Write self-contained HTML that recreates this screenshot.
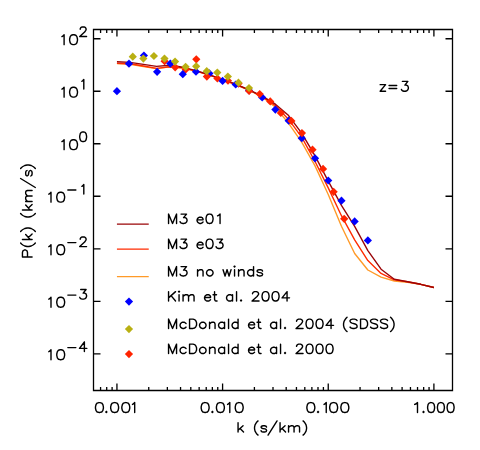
<!DOCTYPE html>
<html><head><meta charset="utf-8"><title>P(k) z=3</title>
<style>html,body{margin:0;padding:0;background:#fff;font-family:"Liberation Sans",sans-serif}svg{display:block}</style>
</head><body>
<svg width="480" height="450" viewBox="0 0 480 450">
<rect width="480" height="450" fill="#fff"/>
<polyline points="116.94,63.6 130.15,64.3 143.35,66.5 156.56,68.6 169.76,66.9 182.97,68 196.18,71.1 209.38,75.2 222.59,79.7 235.8,84.6 249,90.2 262.21,97 275.42,107.2 288.62,123.4 301.83,142.3 315.04,165.9 328.24,194.5 341.45,226.3 354.66,253.5 367.86,270 381.07,277.2 394.28,281 407.48,282.2 420.69,284.3 433.9,287.5" fill="none" stroke="#ff9a28" stroke-width="1.38" stroke-linejoin="round" stroke-linecap="butt"/>
<polyline points="116.94,63.3 130.15,63.8 143.35,66 156.56,68.4 169.76,66.7 182.97,67.9 196.18,71 209.38,75.1 222.59,79.6 235.8,84.5 249,90 262.21,96.6 275.42,105.6 288.62,119.4 301.83,137.3 315.04,161.5 328.24,187.9 341.45,215.7 354.66,239.8 367.86,260.6 381.07,273.4 394.28,279.8 407.48,281.8 420.69,284.3 433.9,287.5" fill="none" stroke="#ff2a00" stroke-width="1.38" stroke-linejoin="round" stroke-linecap="butt"/>
<polyline points="116.94,61.8 130.15,62.4 143.35,64.4 156.56,66.4 169.76,65.3 182.97,67.3 196.18,70.6 209.38,74.8 222.59,79.3 235.8,84.2 249,89.8 262.21,96.2 275.42,104.2 288.62,115.6 301.83,133.4 315.04,155.9 328.24,181.1 341.45,205.4 354.66,226.4 367.86,250.6 381.07,269.2 394.28,279.3 407.48,281.7 420.69,284.3 433.9,287.5" fill="none" stroke="#9a0407" stroke-width="1.38" stroke-linejoin="round" stroke-linecap="butt"/>
<path d="M160.5 61.2L164.6 57.1L168.7 61.2L164.6 65.3Z" fill="#ff2300"/>
<path d="M171.06 67.3L175.16 63.2L179.26 67.3L175.16 71.4Z" fill="#ff2300"/>
<path d="M181.63 69.4L185.73 65.3L189.83 69.4L185.73 73.5Z" fill="#ff2300"/>
<path d="M192.19 59.3L196.29 55.2L200.39 59.3L196.29 63.4Z" fill="#ff2300"/>
<path d="M213.32 78.5L217.42 74.4L221.52 78.5L217.42 82.6Z" fill="#ff2300"/>
<path d="M223.89 80.75L227.99 76.65L232.09 80.75L227.99 84.85Z" fill="#ff2300"/>
<path d="M234.46 83.6L238.56 79.5L242.66 83.6L238.56 87.7Z" fill="#ff2300"/>
<path d="M112.84 91.2L116.94 87.1L121.04 91.2L116.94 95.3Z" fill="#0000ff"/>
<path d="M124.88 63.7L128.98 59.6L133.08 63.7L128.98 67.8Z" fill="#0000ff"/>
<path d="M139.81 55.5L143.91 51.4L148.01 55.5L143.91 59.6Z" fill="#0000ff"/>
<path d="M153.01 71.8L157.11 67.7L161.21 71.8L157.11 75.9Z" fill="#0000ff"/>
<path d="M166.21 63.6L170.31 59.5L174.41 63.6L170.31 67.7Z" fill="#0000ff"/>
<path d="M178.69 74.2L182.79 70.1L186.89 74.2L182.79 78.3Z" fill="#0000ff"/>
<path d="M191.89 71.7L195.99 67.6L200.09 71.7L195.99 75.8Z" fill="#0000ff"/>
<path d="M205.29 73.4L209.39 69.3L213.49 73.4L209.39 77.5Z" fill="#0000ff"/>
<path d="M218.49 80.9L222.59 76.8L226.69 80.9L222.59 85Z" fill="#0000ff"/>
<path d="M231.58 84.5L235.68 80.4L239.78 84.5L235.68 88.6Z" fill="#0000ff"/>
<path d="M244.95 90.4L249.05 86.3L253.15 90.4L249.05 94.5Z" fill="#0000ff"/>
<path d="M258.08 97.4L262.18 93.3L266.28 97.4L262.18 101.5Z" fill="#0000ff"/>
<path d="M271.28 109.6L275.38 105.5L279.48 109.6L275.38 113.7Z" fill="#0000ff"/>
<path d="M284.56 120.7L288.66 116.6L292.76 120.7L288.66 124.8Z" fill="#0000ff"/>
<path d="M297.7 138.2L301.8 134.1L305.9 138.2L301.8 142.3Z" fill="#0000ff"/>
<path d="M310.94 158.3L315.04 154.2L319.14 158.3L315.04 162.4Z" fill="#0000ff"/>
<path d="M324.14 180.5L328.24 176.4L332.34 180.5L328.24 184.6Z" fill="#0000ff"/>
<path d="M337.37 200.7L341.47 196.6L345.57 200.7L341.47 204.8Z" fill="#0000ff"/>
<path d="M350.55 221.4L354.65 217.3L358.75 221.4L354.65 225.5Z" fill="#0000ff"/>
<path d="M363.76 240.4L367.86 236.3L371.96 240.4L367.86 244.5Z" fill="#0000ff"/>
<path d="M202.76 76.6L206.86 72.5L210.96 76.6L206.86 80.7Z" fill="#ff2300"/>
<path d="M245.02 91L249.12 86.9L253.22 91L249.12 95.1Z" fill="#ff2300"/>
<path d="M128.69 56.7L132.79 52.6L136.89 56.7L132.79 60.8Z" fill="#b9b013"/>
<path d="M139.25 58.6L143.35 54.5L147.45 58.6L143.35 62.7Z" fill="#b9b013"/>
<path d="M149.82 56L153.92 51.9L158.02 56L153.92 60.1Z" fill="#b9b013"/>
<path d="M160.38 58.6L164.48 54.5L168.58 58.6L164.48 62.7Z" fill="#b9b013"/>
<path d="M170.95 61.6L175.05 57.5L179.15 61.6L175.05 65.7Z" fill="#b9b013"/>
<path d="M181.51 66.8L185.61 62.7L189.71 66.8L185.61 70.9Z" fill="#b9b013"/>
<path d="M192.08 66.3L196.18 62.2L200.28 66.3L196.18 70.4Z" fill="#b9b013"/>
<path d="M202.64 71.2L206.74 67.1L210.84 71.2L206.74 75.3Z" fill="#b9b013"/>
<path d="M213.21 72.6L217.31 68.5L221.41 72.6L217.31 76.7Z" fill="#b9b013"/>
<path d="M223.77 76.6L227.87 72.5L231.97 76.6L227.87 80.7Z" fill="#b9b013"/>
<path d="M234.34 82.7L238.44 78.6L242.54 82.7L238.44 86.8Z" fill="#b9b013"/>
<path d="M244.9 88L249 83.9L253.1 88L249 92.1Z" fill="#b9b013"/>
<path d="M255.59 94.1L259.69 90L263.79 94.1L259.69 98.2Z" fill="#ff2300"/>
<path d="M266.15 101.4L270.25 97.3L274.35 101.4L270.25 105.5Z" fill="#ff2300"/>
<path d="M276.71 113L280.81 108.9L284.92 113L280.81 117.1Z" fill="#ff2300"/>
<path d="M287.28 120.9L291.38 116.8L295.48 120.9L291.38 125Z" fill="#ff2300"/>
<path d="M297.84 133.1L301.94 129L306.05 133.1L301.94 137.2Z" fill="#ff2300"/>
<path d="M308.41 149.7L312.51 145.6L316.61 149.7L312.51 153.8Z" fill="#ff2300"/>
<path d="M318.97 168.9L323.07 164.8L327.18 168.9L323.07 173Z" fill="#ff2300"/>
<path d="M329.54 191.8L333.64 187.7L337.74 191.8L333.64 195.9Z" fill="#ff2300"/>
<path d="M340.1 218.8L344.2 214.7L348.31 218.8L344.2 222.9Z" fill="#ff2300"/>
<path d="M116.94 224.03H148.74" stroke="#9a0407" stroke-width="1.25" fill="none"/>
<path d="M116.94 249.08H148.74" stroke="#ff2a00" stroke-width="1.25" fill="none"/>
<path d="M116.94 276.54H148.74" stroke="#ff9a28" stroke-width="1.25" fill="none"/>
<path d="M124.88 301.59L128.98 297.49L133.08 301.59L128.98 305.69Z" fill="#0000ff"/>
<path d="M124.88 329.05L128.98 324.95L133.08 329.05L128.98 333.15Z" fill="#b9b013"/>
<path d="M124.88 354.1L128.98 350L133.08 354.1L128.98 358.2Z" fill="#ff2300"/>
<path d="M93.5 29.5 H452.5 V390.5 H93.5 Z M100.57 29.5v3.6 M100.57 390.5v-3.6 M106.7 29.5v3.6 M106.7 390.5v-3.6 M112.1 29.5v3.6 M112.1 390.5v-3.6 M116.94 29.5v7 M116.94 390.5v-7 M148.74 29.5v3.6 M148.74 390.5v-3.6 M167.35 29.5v3.6 M167.35 390.5v-3.6 M180.55 29.5v3.6 M180.55 390.5v-3.6 M190.79 29.5v3.6 M190.79 390.5v-3.6 M199.15 29.5v3.6 M199.15 390.5v-3.6 M206.23 29.5v3.6 M206.23 390.5v-3.6 M212.35 29.5v3.6 M212.35 390.5v-3.6 M217.76 29.5v3.6 M217.76 390.5v-3.6 M222.59 29.5v7 M222.59 390.5v-7 M254.4 29.5v3.6 M254.4 390.5v-3.6 M273 29.5v3.6 M273 390.5v-3.6 M286.2 29.5v3.6 M286.2 390.5v-3.6 M296.44 29.5v3.6 M296.44 390.5v-3.6 M304.8 29.5v3.6 M304.8 390.5v-3.6 M311.88 29.5v3.6 M311.88 390.5v-3.6 M318 29.5v3.6 M318 390.5v-3.6 M323.41 29.5v3.6 M323.41 390.5v-3.6 M328.24 29.5v7 M328.24 390.5v-7 M360.05 29.5v3.6 M360.05 390.5v-3.6 M378.65 29.5v3.6 M378.65 390.5v-3.6 M391.85 29.5v3.6 M391.85 390.5v-3.6 M402.09 29.5v3.6 M402.09 390.5v-3.6 M410.46 29.5v3.6 M410.46 390.5v-3.6 M417.53 29.5v3.6 M417.53 390.5v-3.6 M423.66 29.5v3.6 M423.66 390.5v-3.6 M429.06 29.5v3.6 M429.06 390.5v-3.6 M433.9 29.5v7 M433.9 390.5v-7 M93.5 353.8h7 M452.5 353.8h-7 M93.5 301.29h7 M452.5 301.29h-7 M93.5 248.78h7 M452.5 248.78h-7 M93.5 196.27h7 M452.5 196.27h-7 M93.5 143.76h7 M452.5 143.76h-7 M93.5 91.25h7 M452.5 91.25h-7 M93.5 38.75h7 M452.5 38.75h-7" fill="none" stroke="#000" stroke-width="1.3" stroke-linecap="butt" stroke-linejoin="miter"/>
<path d="M98.87 402.58 L97.18 403.05 L96.05 404.46 L95.48 406.81 L95.48 408.22 L96.05 410.57 L97.18 411.98 L98.87 412.45 L100 412.45 L101.7 411.98 L102.83 410.57 L103.39 408.22 L103.39 406.81 L102.83 404.46 L101.7 403.05 L100 402.58 L98.87 402.58 M106.34 411.51 L105.77 411.98 L106.34 412.45 L106.9 411.98 L106.34 411.51 M114.07 402.58 L112.38 403.05 L111.25 404.46 L110.68 406.81 L110.68 408.22 L111.25 410.57 L112.38 411.98 L114.07 412.45 L115.2 412.45 L116.9 411.98 L118.03 410.57 L118.59 408.22 L118.59 406.81 L118.03 404.46 L116.9 403.05 L115.2 402.58 L114.07 402.58 M125.22 402.58 L123.53 403.05 L122.4 404.46 L121.83 406.81 L121.83 408.22 L122.4 410.57 L123.53 411.98 L125.22 412.45 L126.35 412.45 L128.05 411.98 L129.18 410.57 L129.74 408.22 L129.74 406.81 L129.18 404.46 L128.05 403.05 L126.35 402.58 L125.22 402.58 M132.49 404.46 L133.37 403.99 L134.69 402.58 L134.69 412.45" fill="none" stroke="#000" stroke-width="1.4" stroke-linecap="round" stroke-linejoin="round"/>
<path d="M204.58 402.58 L202.88 403.05 L201.75 404.46 L201.19 406.81 L201.19 408.22 L201.75 410.57 L202.88 411.98 L204.58 412.45 L205.71 412.45 L207.4 411.98 L208.53 410.57 L209.1 408.22 L209.1 406.81 L208.53 404.46 L207.4 403.05 L205.71 402.58 L204.58 402.58 M212.39 411.51 L211.83 411.98 L212.39 412.45 L212.96 411.98 L212.39 411.51 M219.83 402.58 L218.13 403.05 L217 404.46 L216.44 406.81 L216.44 408.22 L217 410.57 L218.13 411.98 L219.83 412.45 L220.96 412.45 L222.65 411.98 L223.78 410.57 L224.35 408.22 L224.35 406.81 L223.78 404.46 L222.65 403.05 L220.96 402.58 L219.83 402.58 M227.59 404.46 L228.47 403.99 L229.79 402.58 L229.79 412.45 M238.63 402.58 L236.93 403.05 L235.8 404.46 L235.24 406.81 L235.24 408.22 L235.8 410.57 L236.93 411.98 L238.63 412.45 L239.76 412.45 L241.45 411.98 L242.58 410.57 L243.15 408.22 L243.15 406.81 L242.58 404.46 L241.45 403.05 L239.76 402.58 L238.63 402.58" fill="none" stroke="#000" stroke-width="1.4" stroke-linecap="round" stroke-linejoin="round"/>
<path d="M310.28 402.58 L308.58 403.05 L307.45 404.46 L306.89 406.81 L306.89 408.22 L307.45 410.57 L308.58 411.98 L310.28 412.45 L311.41 412.45 L313.1 411.98 L314.23 410.57 L314.8 408.22 L314.8 406.81 L314.23 404.46 L313.1 403.05 L311.41 402.58 L310.28 402.58 M318.04 411.51 L317.48 411.98 L318.04 412.45 L318.61 411.98 L318.04 411.51 M324.04 404.46 L324.92 403.99 L326.24 402.58 L326.24 412.45 M333.08 402.58 L331.38 403.05 L330.25 404.46 L329.69 406.81 L329.69 408.22 L330.25 410.57 L331.38 411.98 L333.08 412.45 L334.21 412.45 L335.9 411.98 L337.03 410.57 L337.6 408.22 L337.6 406.81 L337.03 404.46 L335.9 403.05 L334.21 402.58 L333.08 402.58 M344.28 402.58 L342.58 403.05 L341.45 404.46 L340.89 406.81 L340.89 408.22 L341.45 410.57 L342.58 411.98 L344.28 412.45 L345.41 412.45 L347.1 411.98 L348.23 410.57 L348.8 408.22 L348.8 406.81 L348.23 404.46 L347.1 403.05 L345.41 402.58 L344.28 402.58" fill="none" stroke="#000" stroke-width="1.4" stroke-linecap="round" stroke-linejoin="round"/>
<path d="M414.68 404.46 L415.81 403.99 L417.5 402.58 L417.5 412.45 M423.5 411.51 L422.94 411.98 L423.5 412.45 L424.06 411.98 L423.5 411.51" fill="none" stroke="#000" stroke-width="1.4" stroke-linecap="round" stroke-linejoin="round"/>
<path d="M430.6 402.58 L429.11 403.05 L428.12 404.46 L427.62 406.81 L427.62 408.22 L428.12 410.57 L429.11 411.98 L430.6 412.45 L431.6 412.45 L433.09 411.98 L434.08 410.57 L434.58 408.22 L434.58 406.81 L434.08 404.46 L433.09 403.05 L431.6 402.58 L430.6 402.58 M440.4 402.58 L438.91 403.05 L437.92 404.46 L437.42 406.81 L437.42 408.22 L437.92 410.57 L438.91 411.98 L440.4 412.45 L441.4 412.45 L442.89 411.98 L443.88 410.57 L444.38 408.22 L444.38 406.81 L443.88 404.46 L442.89 403.05 L441.4 402.58 L440.4 402.58 M450.1 402.58 L448.61 403.05 L447.62 404.46 L447.12 406.81 L447.12 408.22 L447.62 410.57 L448.61 411.98 L450.1 412.45 L451.1 412.45 L452.59 411.98 L453.58 410.57 L454.08 408.22 L454.08 406.81 L453.58 404.46 L452.59 403.05 L451.1 402.58 L450.1 402.58" fill="none" stroke="#000" stroke-width="1.4" stroke-linecap="round" stroke-linejoin="round"/>
<path d="M48.82 351.67 L49.69 351.2 L51 349.79 L51 359.7 M60.14 349.79 L58.46 350.26 L57.34 351.67 L56.78 354.03 L56.78 355.45 L57.34 357.81 L58.46 359.23 L60.14 359.7 L61.26 359.7 L62.94 359.23 L64.06 357.81 L64.62 355.45 L64.62 354.03 L64.06 351.67 L62.94 350.26 L61.26 349.79 L60.14 349.79" fill="none" stroke="#000" stroke-width="1.4" stroke-linecap="round" stroke-linejoin="round"/>
<path d="M67.85 347.6H75.85" stroke="#000" stroke-width="1.4" stroke-linecap="round" fill="none"/>
<path d="M84.38 341.98 L79.48 348.39 L86.83 348.39 M84.38 341.98 L84.38 351.6" fill="none" stroke="#000" stroke-width="1.4" stroke-linecap="round" stroke-linejoin="round"/>
<path d="M48.82 299.17 L49.69 298.69 L51 297.28 L51 307.19 M60.14 297.28 L58.46 297.75 L57.34 299.17 L56.78 301.53 L56.78 302.94 L57.34 305.3 L58.46 306.72 L60.14 307.19 L61.26 307.19 L62.94 306.72 L64.06 305.3 L64.62 302.94 L64.62 301.53 L64.06 299.17 L62.94 297.75 L61.26 297.28 L60.14 297.28" fill="none" stroke="#000" stroke-width="1.4" stroke-linecap="round" stroke-linejoin="round"/>
<path d="M67.85 295.09H75.85" stroke="#000" stroke-width="1.4" stroke-linecap="round" fill="none"/>
<path d="M80.7 289.47 L86.09 289.47 L83.15 293.14 L84.62 293.14 L85.6 293.59 L86.09 294.05 L86.58 295.43 L86.58 296.34 L86.09 297.72 L85.11 298.63 L83.64 299.09 L82.17 299.09 L80.7 298.63 L80.21 298.17 L79.72 297.26" fill="none" stroke="#000" stroke-width="1.4" stroke-linecap="round" stroke-linejoin="round"/>
<path d="M48.82 246.66 L49.69 246.18 L51 244.77 L51 254.68 M60.14 244.77 L58.46 245.24 L57.34 246.66 L56.78 249.02 L56.78 250.43 L57.34 252.79 L58.46 254.21 L60.14 254.68 L61.26 254.68 L62.94 254.21 L64.06 252.79 L64.62 250.43 L64.62 249.02 L64.06 246.66 L62.94 245.24 L61.26 244.77 L60.14 244.77" fill="none" stroke="#000" stroke-width="1.4" stroke-linecap="round" stroke-linejoin="round"/>
<path d="M67.85 242.58H75.85" stroke="#000" stroke-width="1.4" stroke-linecap="round" fill="none"/>
<path d="M80.21 239.25 L80.21 238.79 L80.7 237.88 L81.19 237.42 L82.17 236.96 L84.13 236.96 L85.11 237.42 L85.6 237.88 L86.09 238.79 L86.09 239.71 L85.6 240.63 L84.62 242 L79.72 246.58 L86.58 246.58" fill="none" stroke="#000" stroke-width="1.4" stroke-linecap="round" stroke-linejoin="round"/>
<path d="M48.82 194.15 L49.69 193.68 L51 192.26 L51 202.17 M60.14 192.26 L58.46 192.73 L57.34 194.15 L56.78 196.51 L56.78 197.92 L57.34 200.28 L58.46 201.7 L60.14 202.17 L61.26 202.17 L62.94 201.7 L64.06 200.28 L64.62 197.92 L64.62 196.51 L64.06 194.15 L62.94 192.73 L61.26 192.26 L60.14 192.26" fill="none" stroke="#000" stroke-width="1.4" stroke-linecap="round" stroke-linejoin="round"/>
<path d="M67.85 190.07H75.85" stroke="#000" stroke-width="1.4" stroke-linecap="round" fill="none"/>
<path d="M81.89 186.29 L82.65 185.83 L83.8 184.45 L83.8 194.07" fill="none" stroke="#000" stroke-width="1.4" stroke-linecap="round" stroke-linejoin="round"/>
<path d="M61.92 141.64 L62.79 141.17 L64.1 139.75 L64.1 149.66 M72.99 139.75 L71.31 140.22 L70.19 141.64 L69.63 144 L69.63 145.42 L70.19 147.78 L71.31 149.19 L72.99 149.66 L74.11 149.66 L75.79 149.19 L76.91 147.78 L77.47 145.42 L77.47 144 L76.91 141.64 L75.79 140.22 L74.11 139.75 L72.99 139.75" fill="none" stroke="#000" stroke-width="1.4" stroke-linecap="round" stroke-linejoin="round"/>
<path d="M82.66 131.95 L81.19 132.4 L80.21 133.78 L79.72 136.07 L79.72 137.44 L80.21 139.73 L81.19 141.11 L82.66 141.56 L83.64 141.56 L85.11 141.11 L86.09 139.73 L86.58 137.44 L86.58 136.07 L86.09 133.78 L85.11 132.4 L83.64 131.95 L82.66 131.95" fill="none" stroke="#000" stroke-width="1.4" stroke-linecap="round" stroke-linejoin="round"/>
<path d="M61.92 89.13 L62.79 88.66 L64.1 87.24 L64.1 97.15 M72.99 87.24 L71.31 87.71 L70.19 89.13 L69.63 91.49 L69.63 92.91 L70.19 95.27 L71.31 96.68 L72.99 97.15 L74.11 97.15 L75.79 96.68 L76.91 95.27 L77.47 92.91 L77.47 91.49 L76.91 89.13 L75.79 87.71 L74.11 87.24 L72.99 87.24" fill="none" stroke="#000" stroke-width="1.4" stroke-linecap="round" stroke-linejoin="round"/>
<path d="M81.89 81.27 L82.65 80.81 L83.8 79.44 L83.8 89.05" fill="none" stroke="#000" stroke-width="1.4" stroke-linecap="round" stroke-linejoin="round"/>
<path d="M61.92 36.62 L62.79 36.15 L64.1 34.73 L64.1 44.65 M72.99 34.73 L71.31 35.21 L70.19 36.62 L69.63 38.98 L69.63 40.4 L70.19 42.76 L71.31 44.17 L72.99 44.65 L74.11 44.65 L75.79 44.17 L76.91 42.76 L77.47 40.4 L77.47 38.98 L76.91 36.62 L75.79 35.21 L74.11 34.73 L72.99 34.73" fill="none" stroke="#000" stroke-width="1.4" stroke-linecap="round" stroke-linejoin="round"/>
<path d="M80.21 29.22 L80.21 28.76 L80.7 27.84 L81.19 27.39 L82.17 26.93 L84.13 26.93 L85.11 27.39 L85.6 27.84 L86.09 28.76 L86.09 29.68 L85.6 30.59 L84.62 31.97 L79.72 36.55 L86.58 36.55" fill="none" stroke="#000" stroke-width="1.4" stroke-linecap="round" stroke-linejoin="round"/>
<path d="M238.05 422.65 L238.05 432 M243.05 425.77 L238.05 430.22 M240.05 428.44 L243.55 432 M258.05 420.88 L257.05 421.76 L256.05 423.1 L255.05 424.88 L254.55 427.11 L254.55 428.88 L255.05 431.11 L256.05 432.89 L257.05 434.23 L258.05 435.12 M266.55 427.11 L266.05 426.21 L264.55 425.77 L263.05 425.77 L261.55 426.21 L261.05 427.11 L261.55 428 L262.55 428.44 L265.05 428.88 L266.05 429.33 L266.55 430.22 L266.55 430.67 L266.05 431.56 L264.55 432 L263.05 432 L261.55 431.56 L261.05 430.67 M277.05 420.88 L268.05 435.12 M280.05 422.65 L280.05 432 M285.05 425.77 L280.05 430.22 M282.05 428.44 L285.55 432 M288.55 425.77 L288.55 432 M288.55 427.55 L290.05 426.21 L291.05 425.77 L292.55 425.77 L293.55 426.21 L294.05 427.55 L294.05 432 M294.05 427.55 L295.55 426.21 L296.55 425.77 L298.05 425.77 L299.05 426.21 L299.55 427.55 L299.55 432 M303.05 420.88 L304.05 421.76 L305.05 423.1 L306.05 424.88 L306.55 427.11 L306.55 428.88 L306.05 431.11 L305.05 432.89 L304.05 434.23 L303.05 435.12" fill="none" stroke="#000" stroke-width="1.4" stroke-linecap="round" stroke-linejoin="round"/>
<path d="M22.44 257 L32.1 257 M22.44 257 L22.44 252.5 L22.9 251 L23.36 250.5 L24.28 250 L25.66 250 L26.58 250.5 L27.04 251 L27.5 252.5 L27.5 257 M20.6 243 L21.52 244 L22.9 245 L24.74 246 L27.04 246.5 L28.88 246.5 L31.18 246 L33.02 245 L34.4 244 L35.32 243 M22.44 239.5 L32.1 239.5 M25.66 234.5 L30.26 239.5 M28.42 237.5 L32.1 234 M20.6 231.5 L21.52 230.5 L22.9 229.5 L24.74 228.5 L27.04 228 L28.88 228 L31.18 228.5 L33.02 229.5 L34.4 230.5 L35.32 231.5 M20.6 213.5 L21.52 214.5 L22.9 215.5 L24.74 216.5 L27.04 217 L28.88 217 L31.18 216.5 L33.02 215.5 L34.4 214.5 L35.32 213.5 M22.44 210 L32.1 210 M25.66 205 L30.26 210 M28.42 208 L32.1 204.5 M25.66 201.5 L32.1 201.5 M27.5 201.5 L26.12 200 L25.66 199 L25.66 197.5 L26.12 196.5 L27.5 196 L32.1 196 M27.5 196 L26.12 194.5 L25.66 193.5 L25.66 192 L26.12 191 L27.5 190.5 L32.1 190.5 M20.6 178.5 L35.32 187.5 M27.04 170.5 L26.12 171 L25.66 172.5 L25.66 174 L26.12 175.5 L27.04 176 L27.96 175.5 L28.42 174.5 L28.88 172 L29.34 171 L30.26 170.5 L30.72 170.5 L31.64 171 L32.1 172.5 L32.1 174 L31.64 175.5 L30.72 176 M20.6 168.5 L21.52 167.5 L22.9 166.5 L24.74 165.5 L27.04 165 L28.88 165 L31.18 165.5 L33.02 166.5 L34.4 167.5 L35.32 168.5" fill="none" stroke="#000" stroke-width="1.4" stroke-linecap="round" stroke-linejoin="round"/>
<path d="M385.58 84.67 L380.14 91.25 M380.14 84.67 L385.58 84.67 M380.14 91.25 L385.58 91.25 M389.05 85.43 L396.72 85.43 M389.05 88.53 L396.72 88.53 M402.41 81.38 L407.86 81.38 L404.89 85.14 L406.37 85.14 L407.36 85.61 L407.86 86.08 L408.35 87.49 L408.35 88.43 L407.86 89.84 L406.87 90.78 L405.38 91.25 L403.9 91.25 L402.41 90.78 L401.92 90.31 L401.42 89.37" fill="none" stroke="#000" stroke-width="1.4" stroke-linecap="round" stroke-linejoin="round"/>
<path d="M168.55 214.08 L168.55 223.43 M168.55 214.08 L172.55 223.43 M176.55 214.08 L172.55 223.43 M176.55 214.08 L176.55 223.43 M181.05 214.08 L186.55 214.08 L183.55 217.64 L185.05 217.64 L186.05 218.09 L186.55 218.53 L187.05 219.87 L187.05 220.76 L186.55 222.09 L185.55 222.98 L184.05 223.43 L182.55 223.43 L181.05 222.98 L180.55 222.54 L180.05 221.65 M197.05 219.87 L203.05 219.87 L203.05 218.98 L202.55 218.09 L202.05 217.64 L201.05 217.2 L199.55 217.2 L198.55 217.64 L197.55 218.53 L197.05 219.87 L197.05 220.76 L197.55 222.09 L198.55 222.98 L199.55 223.43 L201.05 223.43 L202.05 222.98 L203.05 222.09 M209.05 214.08 L207.55 214.53 L206.55 215.86 L206.05 218.09 L206.05 219.42 L206.55 221.65 L207.55 222.98 L209.05 223.43 L210.05 223.43 L211.55 222.98 L212.55 221.65 L213.05 219.42 L213.05 218.09 L212.55 215.86 L211.55 214.53 L210.05 214.08 L209.05 214.08 M217.55 215.86 L218.55 215.42 L220.05 214.08 L220.05 223.43" fill="none" stroke="#000" stroke-width="1.4" stroke-linecap="round" stroke-linejoin="round"/>
<path d="M168.55 239.14 L168.55 248.48 M168.55 239.14 L172.55 248.48 M176.55 239.14 L172.55 248.48 M176.55 239.14 L176.55 248.48 M181.05 239.14 L186.55 239.14 L183.55 242.7 L185.05 242.7 L186.05 243.14 L186.55 243.59 L187.05 244.92 L187.05 245.81 L186.55 247.15 L185.55 248.04 L184.05 248.48 L182.55 248.48 L181.05 248.04 L180.55 247.59 L180.05 246.7 M197.05 244.92 L203.05 244.92 L203.05 244.03 L202.55 243.14 L202.05 242.7 L201.05 242.25 L199.55 242.25 L198.55 242.7 L197.55 243.59 L197.05 244.92 L197.05 245.81 L197.55 247.15 L198.55 248.04 L199.55 248.48 L201.05 248.48 L202.05 248.04 L203.05 247.15 M209.05 239.14 L207.55 239.58 L206.55 240.92 L206.05 243.14 L206.05 244.48 L206.55 246.7 L207.55 248.04 L209.05 248.48 L210.05 248.48 L211.55 248.04 L212.55 246.7 L213.05 244.48 L213.05 243.14 L212.55 240.92 L211.55 239.58 L210.05 239.14 L209.05 239.14 M217.05 239.14 L222.55 239.14 L219.55 242.7 L221.05 242.7 L222.05 243.14 L222.55 243.59 L223.05 244.92 L223.05 245.81 L222.55 247.15 L221.55 248.04 L220.05 248.48 L218.55 248.48 L217.05 248.04 L216.55 247.59 L216.05 246.7" fill="none" stroke="#000" stroke-width="1.4" stroke-linecap="round" stroke-linejoin="round"/>
<path d="M168.55 266.59 L168.55 275.94 M168.55 266.59 L172.55 275.94 M176.55 266.59 L172.55 275.94 M176.55 266.59 L176.55 275.94 M181.05 266.59 L186.55 266.59 L183.55 270.15 L185.05 270.15 L186.05 270.6 L186.55 271.04 L187.05 272.38 L187.05 273.27 L186.55 274.6 L185.55 275.49 L184.05 275.94 L182.55 275.94 L181.05 275.49 L180.55 275.05 L180.05 274.16 M197.55 269.71 L197.55 275.94 M197.55 271.49 L199.05 270.15 L200.05 269.71 L201.55 269.71 L202.55 270.15 L203.05 271.49 L203.05 275.94 M209.05 269.71 L208.05 270.15 L207.05 271.04 L206.55 272.38 L206.55 273.27 L207.05 274.6 L208.05 275.49 L209.05 275.94 L210.55 275.94 L211.55 275.49 L212.55 274.6 L213.05 273.27 L213.05 272.38 L212.55 271.04 L211.55 270.15 L210.55 269.71 L209.05 269.71 M223.05 269.71 L225.05 275.94 M227.05 269.71 L225.05 275.94 M227.05 269.71 L229.05 275.94 M231.05 269.71 L229.05 275.94 M234.05 266.59 L234.55 267.04 L235.05 266.59 L234.55 266.15 L234.05 266.59 M234.55 269.71 L234.55 275.94 M238.55 269.71 L238.55 275.94 M238.55 271.49 L240.05 270.15 L241.05 269.71 L242.55 269.71 L243.55 270.15 L244.05 271.49 L244.05 275.94 M253.55 266.59 L253.55 275.94 M253.55 271.04 L252.55 270.15 L251.55 269.71 L250.05 269.71 L249.05 270.15 L248.05 271.04 L247.55 272.38 L247.55 273.27 L248.05 274.6 L249.05 275.49 L250.05 275.94 L251.55 275.94 L252.55 275.49 L253.55 274.6 M262.55 271.04 L262.05 270.15 L260.55 269.71 L259.05 269.71 L257.55 270.15 L257.05 271.04 L257.55 271.93 L258.55 272.38 L261.05 272.82 L262.05 273.27 L262.55 274.16 L262.55 274.6 L262.05 275.49 L260.55 275.94 L259.05 275.94 L257.55 275.49 L257.05 274.6" fill="none" stroke="#000" stroke-width="1.4" stroke-linecap="round" stroke-linejoin="round"/>
<path d="M168.55 291.64 L168.55 300.99 M175.55 291.64 L168.55 297.87 M171.05 295.65 L175.55 300.99 M178.55 291.64 L179.05 292.09 L179.55 291.64 L179.05 291.2 L178.55 291.64 M179.05 294.76 L179.05 300.99 M183.05 294.76 L183.05 300.99 M183.05 296.54 L184.55 295.2 L185.55 294.76 L187.05 294.76 L188.05 295.2 L188.55 296.54 L188.55 300.99 M188.55 296.54 L190.05 295.2 L191.05 294.76 L192.55 294.76 L193.55 295.2 L194.05 296.54 L194.05 300.99 M204.55 297.43 L210.55 297.43 L210.55 296.54 L210.05 295.65 L209.55 295.2 L208.55 294.76 L207.05 294.76 L206.05 295.2 L205.05 296.09 L204.55 297.43 L204.55 298.32 L205.05 299.65 L206.05 300.54 L207.05 300.99 L208.55 300.99 L209.55 300.54 L210.55 299.65 M214.55 291.64 L214.55 299.21 L215.05 300.54 L216.05 300.99 L217.05 300.99 M213.05 294.76 L216.55 294.76 M232.55 294.76 L232.55 300.99 M232.55 296.09 L231.55 295.2 L230.55 294.76 L229.05 294.76 L228.05 295.2 L227.05 296.09 L226.55 297.43 L226.55 298.32 L227.05 299.65 L228.05 300.54 L229.05 300.99 L230.55 300.99 L231.55 300.54 L232.55 299.65 M236.55 291.64 L236.55 300.99 M241.05 300.1 L240.55 300.54 L241.05 300.99 L241.55 300.54 L241.05 300.1 M252.55 293.87 L252.55 293.42 L253.05 292.53 L253.55 292.09 L254.55 291.64 L256.55 291.64 L257.55 292.09 L258.05 292.53 L258.55 293.42 L258.55 294.31 L258.05 295.2 L257.05 296.54 L252.05 300.99 L259.05 300.99 M265.05 291.64 L263.55 292.09 L262.55 293.42 L262.05 295.65 L262.05 296.98 L262.55 299.21 L263.55 300.54 L265.05 300.99 L266.05 300.99 L267.55 300.54 L268.55 299.21 L269.05 296.98 L269.05 295.65 L268.55 293.42 L267.55 292.09 L266.05 291.64 L265.05 291.64 M275.05 291.64 L273.55 292.09 L272.55 293.42 L272.05 295.65 L272.05 296.98 L272.55 299.21 L273.55 300.54 L275.05 300.99 L276.05 300.99 L277.55 300.54 L278.55 299.21 L279.05 296.98 L279.05 295.65 L278.55 293.42 L277.55 292.09 L276.05 291.64 L275.05 291.64 M287.05 291.64 L282.05 297.87 L289.55 297.87 M287.05 291.64 L287.05 300.99" fill="none" stroke="#000" stroke-width="1.4" stroke-linecap="round" stroke-linejoin="round"/>
<path d="M168.55 319.1 L168.55 328.45 M168.55 319.1 L172.55 328.45 M176.55 319.1 L172.55 328.45 M176.55 319.1 L176.55 328.45 M186.05 323.55 L185.05 322.66 L184.05 322.22 L182.55 322.22 L181.55 322.66 L180.55 323.55 L180.05 324.89 L180.05 325.78 L180.55 327.11 L181.55 328 L182.55 328.45 L184.05 328.45 L185.05 328 L186.05 327.11 M189.55 319.1 L189.55 328.45 M189.55 319.1 L193.05 319.1 L194.55 319.55 L195.55 320.44 L196.05 321.33 L196.55 322.66 L196.55 324.89 L196.05 326.22 L195.55 327.11 L194.55 328 L193.05 328.45 L189.55 328.45 M202.05 322.22 L201.05 322.66 L200.05 323.55 L199.55 324.89 L199.55 325.78 L200.05 327.11 L201.05 328 L202.05 328.45 L203.55 328.45 L204.55 328 L205.55 327.11 L206.05 325.78 L206.05 324.89 L205.55 323.55 L204.55 322.66 L203.55 322.22 L202.05 322.22 M209.55 322.22 L209.55 328.45 M209.55 324 L211.05 322.66 L212.05 322.22 L213.55 322.22 L214.55 322.66 L215.05 324 L215.05 328.45 M224.55 322.22 L224.55 328.45 M224.55 323.55 L223.55 322.66 L222.55 322.22 L221.05 322.22 L220.05 322.66 L219.05 323.55 L218.55 324.89 L218.55 325.78 L219.05 327.11 L220.05 328 L221.05 328.45 L222.55 328.45 L223.55 328 L224.55 327.11 M228.55 319.1 L228.55 328.45 M238.05 319.1 L238.05 328.45 M238.05 323.55 L237.05 322.66 L236.05 322.22 L234.55 322.22 L233.55 322.66 L232.55 323.55 L232.05 324.89 L232.05 325.78 L232.55 327.11 L233.55 328 L234.55 328.45 L236.05 328.45 L237.05 328 L238.05 327.11 M248.55 324.89 L254.55 324.89 L254.55 324 L254.05 323.11 L253.55 322.66 L252.55 322.22 L251.05 322.22 L250.05 322.66 L249.05 323.55 L248.55 324.89 L248.55 325.78 L249.05 327.11 L250.05 328 L251.05 328.45 L252.55 328.45 L253.55 328 L254.55 327.11 M258.55 319.1 L258.55 326.67 L259.05 328 L260.05 328.45 L261.05 328.45 M257.05 322.22 L260.55 322.22 M276.55 322.22 L276.55 328.45 M276.55 323.55 L275.55 322.66 L274.55 322.22 L273.05 322.22 L272.05 322.66 L271.05 323.55 L270.55 324.89 L270.55 325.78 L271.05 327.11 L272.05 328 L273.05 328.45 L274.55 328.45 L275.55 328 L276.55 327.11 M280.55 319.1 L280.55 328.45 M285.05 327.56 L284.55 328 L285.05 328.45 L285.55 328 L285.05 327.56 M296.55 321.33 L296.55 320.88 L297.05 319.99 L297.55 319.55 L298.55 319.1 L300.55 319.1 L301.55 319.55 L302.05 319.99 L302.55 320.88 L302.55 321.77 L302.05 322.66 L301.05 324 L296.05 328.45 L303.05 328.45 M309.05 319.1 L307.55 319.55 L306.55 320.88 L306.05 323.11 L306.05 324.44 L306.55 326.67 L307.55 328 L309.05 328.45 L310.05 328.45 L311.55 328 L312.55 326.67 L313.05 324.44 L313.05 323.11 L312.55 320.88 L311.55 319.55 L310.05 319.1 L309.05 319.1 M319.05 319.1 L317.55 319.55 L316.55 320.88 L316.05 323.11 L316.05 324.44 L316.55 326.67 L317.55 328 L319.05 328.45 L320.05 328.45 L321.55 328 L322.55 326.67 L323.05 324.44 L323.05 323.11 L322.55 320.88 L321.55 319.55 L320.05 319.1 L319.05 319.1 M331.05 319.1 L326.05 325.33 L333.55 325.33 M331.05 319.1 L331.05 328.45 M347.05 317.32 L346.05 318.21 L345.05 319.55 L344.05 321.33 L343.55 323.55 L343.55 325.33 L344.05 327.56 L345.05 329.34 L346.05 330.67 L347.05 331.56 M357.05 320.44 L356.05 319.55 L354.55 319.1 L352.55 319.1 L351.05 319.55 L350.05 320.44 L350.05 321.33 L350.55 322.22 L351.05 322.66 L352.05 323.11 L355.05 324 L356.05 324.44 L356.55 324.89 L357.05 325.78 L357.05 327.11 L356.05 328 L354.55 328.45 L352.55 328.45 L351.05 328 L350.05 327.11 M360.55 319.1 L360.55 328.45 M360.55 319.1 L364.05 319.1 L365.55 319.55 L366.55 320.44 L367.05 321.33 L367.55 322.66 L367.55 324.89 L367.05 326.22 L366.55 327.11 L365.55 328 L364.05 328.45 L360.55 328.45 M377.55 320.44 L376.55 319.55 L375.05 319.1 L373.05 319.1 L371.55 319.55 L370.55 320.44 L370.55 321.33 L371.05 322.22 L371.55 322.66 L372.55 323.11 L375.55 324 L376.55 324.44 L377.05 324.89 L377.55 325.78 L377.55 327.11 L376.55 328 L375.05 328.45 L373.05 328.45 L371.55 328 L370.55 327.11 M387.55 320.44 L386.55 319.55 L385.05 319.1 L383.05 319.1 L381.55 319.55 L380.55 320.44 L380.55 321.33 L381.05 322.22 L381.55 322.66 L382.55 323.11 L385.55 324 L386.55 324.44 L387.05 324.89 L387.55 325.78 L387.55 327.11 L386.55 328 L385.05 328.45 L383.05 328.45 L381.55 328 L380.55 327.11 M390.55 317.32 L391.55 318.21 L392.55 319.55 L393.55 321.33 L394.05 323.55 L394.05 325.33 L393.55 327.56 L392.55 329.34 L391.55 330.67 L390.55 331.56" fill="none" stroke="#000" stroke-width="1.4" stroke-linecap="round" stroke-linejoin="round"/>
<path d="M168.55 344.15 L168.55 353.5 M168.55 344.15 L172.55 353.5 M176.55 344.15 L172.55 353.5 M176.55 344.15 L176.55 353.5 M186.05 348.6 L185.05 347.71 L184.05 347.27 L182.55 347.27 L181.55 347.71 L180.55 348.6 L180.05 349.94 L180.05 350.83 L180.55 352.16 L181.55 353.05 L182.55 353.5 L184.05 353.5 L185.05 353.05 L186.05 352.16 M189.55 344.15 L189.55 353.5 M189.55 344.15 L193.05 344.15 L194.55 344.6 L195.55 345.49 L196.05 346.38 L196.55 347.71 L196.55 349.94 L196.05 351.27 L195.55 352.16 L194.55 353.05 L193.05 353.5 L189.55 353.5 M202.05 347.27 L201.05 347.71 L200.05 348.6 L199.55 349.94 L199.55 350.83 L200.05 352.16 L201.05 353.05 L202.05 353.5 L203.55 353.5 L204.55 353.05 L205.55 352.16 L206.05 350.83 L206.05 349.94 L205.55 348.6 L204.55 347.71 L203.55 347.27 L202.05 347.27 M209.55 347.27 L209.55 353.5 M209.55 349.05 L211.05 347.71 L212.05 347.27 L213.55 347.27 L214.55 347.71 L215.05 349.05 L215.05 353.5 M224.55 347.27 L224.55 353.5 M224.55 348.6 L223.55 347.71 L222.55 347.27 L221.05 347.27 L220.05 347.71 L219.05 348.6 L218.55 349.94 L218.55 350.83 L219.05 352.16 L220.05 353.05 L221.05 353.5 L222.55 353.5 L223.55 353.05 L224.55 352.16 M228.55 344.15 L228.55 353.5 M238.05 344.15 L238.05 353.5 M238.05 348.6 L237.05 347.71 L236.05 347.27 L234.55 347.27 L233.55 347.71 L232.55 348.6 L232.05 349.94 L232.05 350.83 L232.55 352.16 L233.55 353.05 L234.55 353.5 L236.05 353.5 L237.05 353.05 L238.05 352.16 M248.55 349.94 L254.55 349.94 L254.55 349.05 L254.05 348.16 L253.55 347.71 L252.55 347.27 L251.05 347.27 L250.05 347.71 L249.05 348.6 L248.55 349.94 L248.55 350.83 L249.05 352.16 L250.05 353.05 L251.05 353.5 L252.55 353.5 L253.55 353.05 L254.55 352.16 M258.55 344.15 L258.55 351.72 L259.05 353.05 L260.05 353.5 L261.05 353.5 M257.05 347.27 L260.55 347.27 M276.55 347.27 L276.55 353.5 M276.55 348.6 L275.55 347.71 L274.55 347.27 L273.05 347.27 L272.05 347.71 L271.05 348.6 L270.55 349.94 L270.55 350.83 L271.05 352.16 L272.05 353.05 L273.05 353.5 L274.55 353.5 L275.55 353.05 L276.55 352.16 M280.55 344.15 L280.55 353.5 M285.05 352.61 L284.55 353.05 L285.05 353.5 L285.55 353.05 L285.05 352.61 M296.55 346.38 L296.55 345.93 L297.05 345.04 L297.55 344.6 L298.55 344.15 L300.55 344.15 L301.55 344.6 L302.05 345.04 L302.55 345.93 L302.55 346.82 L302.05 347.71 L301.05 349.05 L296.05 353.5 L303.05 353.5 M309.05 344.15 L307.55 344.6 L306.55 345.93 L306.05 348.16 L306.05 349.49 L306.55 351.72 L307.55 353.05 L309.05 353.5 L310.05 353.5 L311.55 353.05 L312.55 351.72 L313.05 349.49 L313.05 348.16 L312.55 345.93 L311.55 344.6 L310.05 344.15 L309.05 344.15 M319.05 344.15 L317.55 344.6 L316.55 345.93 L316.05 348.16 L316.05 349.49 L316.55 351.72 L317.55 353.05 L319.05 353.5 L320.05 353.5 L321.55 353.05 L322.55 351.72 L323.05 349.49 L323.05 348.16 L322.55 345.93 L321.55 344.6 L320.05 344.15 L319.05 344.15 M329.05 344.15 L327.55 344.6 L326.55 345.93 L326.05 348.16 L326.05 349.49 L326.55 351.72 L327.55 353.05 L329.05 353.5 L330.05 353.5 L331.55 353.05 L332.55 351.72 L333.05 349.49 L333.05 348.16 L332.55 345.93 L331.55 344.6 L330.05 344.15 L329.05 344.15" fill="none" stroke="#000" stroke-width="1.4" stroke-linecap="round" stroke-linejoin="round"/>
</svg>
</body></html>
